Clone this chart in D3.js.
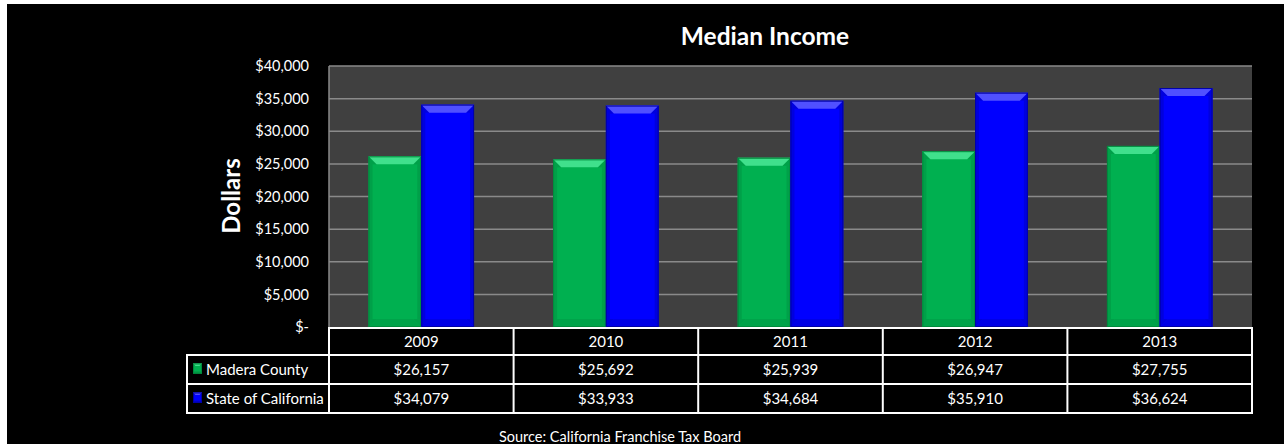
<!DOCTYPE html>
<html>
<head>
<meta charset="utf-8">
<script src="https://cdn.jsdelivr.net/npm/d3@7"></script>
<style>
  html, body { margin: 0; padding: 0; background: #ffffff; }
  svg { display: block; }
  text { font-family: Lato, "Open Sans", "Liberation Sans", sans-serif; fill: #ffffff; }
</style>
</head>
<body>
<svg id="chart" width="1284" height="444"></svg>
<script>
// Median income by year, Madera County vs. State of California
const years = ["2009", "2010", "2011", "2012", "2013"];
const seriesNames = ["Madera County", "State of California"];
const maderaCounty = [26157, 25692, 25939, 26947, 27755];
const stateOfCalifornia = [34079, 33933, 34684, 35910, 36624];
const yTicks = [0, 5000, 10000, 15000, 20000, 25000, 30000, 35000, 40000];

const seriesValues = [maderaCounty, stateOfCalifornia];

const palette = {
  "Madera County":       { base: "#00b050", top: "#40e08c", bottom: "#00a34a", edge: "#008a3d", side: "#00a049" },
  "State of California": { base: "#0000ff", top: "#5050ff", bottom: "#0000e6", edge: "#0000a8", side: "#0000de" }
};

const svg = d3.select("#chart");
const W = 1284, H = 444;

// Dark chart canvas
svg.append("rect").attr("x", 7).attr("y", 4).attr("width", W - 7).attr("height", H - 4).attr("fill", "#000000");

const plot = { left: 329, right: 1252, top: 66, bottom: 327 };

const x0 = d3.scaleBand().domain(years).range([plot.left, plot.right]).paddingInner(0).paddingOuter(0);
const x1 = d3.scaleBand().domain(seriesNames).range([0, x0.bandwidth()]).paddingInner(0).paddingOuter(0.75);
const y = d3.scaleLinear().domain([0, 40000]).range([plot.bottom, plot.top]);

// Plot area background
svg.append("rect")
  .attr("x", plot.left).attr("y", plot.top)
  .attr("width", plot.right - plot.left).attr("height", plot.bottom - plot.top)
  .attr("fill", "#404040");

// Horizontal gridlines
svg.append("g").selectAll("line").data(yTicks.filter(t => t > 0)).join("line")
  .attr("x1", plot.left).attr("x2", plot.right)
  .attr("y1", d => y(d)).attr("y2", d => y(d))
  .attr("stroke", "#8a8a8a").attr("stroke-width", 1.5);

// Left plot border
svg.append("line")
  .attr("x1", plot.left).attr("x2", plot.left)
  .attr("y1", plot.top).attr("y2", plot.bottom)
  .attr("stroke", "#8a8a8a").attr("stroke-width", 1.5);

// Y axis tick labels
const fmt = d3.format(",");
const yAxis = d3.axisLeft(y).tickValues(yTicks).tickSize(0).tickPadding(20)
  .tickFormat(d => d === 0 ? "$-" : "$" + fmt(d));
const yg = svg.append("g").attr("transform", `translate(${plot.left},0)`).call(yAxis);
yg.select(".domain").remove();
yg.selectAll("text").attr("font-size", 14.5).attr("fill", "#ffffff")
  .style("font-family", "Lato, 'Open Sans', sans-serif");

// Beveled bar shape
function bevelBar(g, x, yTop, w, h, c, b) {
  b = Math.min(b, w / 2, h / 2);
  g.append("rect").attr("x", x).attr("y", yTop).attr("width", w).attr("height", h).attr("fill", c.base);
  // left and right faces
  g.append("path").attr("d", `M${x},${yTop}L${x + b},${yTop + b}L${x + b},${yTop + h - b}L${x},${yTop + h}Z`).attr("fill", c.side);
  g.append("path").attr("d", `M${x + w},${yTop}L${x + w - b},${yTop + b}L${x + w - b},${yTop + h - b}L${x + w},${yTop + h}Z`).attr("fill", c.side);
  g.append("rect").attr("x", x + b * 0.5).attr("y", yTop + b).attr("width", w - b).attr("height", Math.max(0, h - 2 * b)).attr("fill", c.base);
  // top face
  g.append("path").attr("d", `M${x},${yTop}L${x + w},${yTop}L${x + w - b},${yTop + b}L${x + b},${yTop + b}Z`).attr("fill", c.top);
  // bottom face
  g.append("path").attr("d", `M${x},${yTop + h}L${x + w},${yTop + h}L${x + w - b},${yTop + h - b}L${x + b},${yTop + h - b}Z`).attr("fill", c.bottom);
  g.append("rect").attr("x", x + 0.5).attr("y", yTop + 0.5).attr("width", w - 1).attr("height", h - 1)
    .attr("fill", "none").attr("stroke", c.edge).attr("stroke-width", 1);
}

// Bars
const barsG = svg.append("g");
years.forEach((yr, i) => {
  seriesNames.forEach((s, j) => {
    const v = seriesValues[j][i];
    const bx = x0(yr) + x1(s);
    const by = y(v);
    bevelBar(barsG.append("g"), bx, by, x1.bandwidth(), y(0) - by, palette[s], 8);
  });
});

// Title
svg.append("text").attr("x", 765).attr("y", 45).attr("text-anchor", "middle")
  .attr("font-size", 24.5).attr("font-weight", "bold").text("Median Income");

// Y axis title
svg.append("text").attr("transform", "translate(240,196) rotate(-90)")
  .attr("text-anchor", "middle").attr("font-size", 24).attr("font-weight", "bold").text("Dollars");

// Data table
const table = { left: 187, headTop: 328, rowTop: 355, rowH: 29 };
const tg = svg.append("g");
const lineStyle = sel => sel.attr("stroke", "#ffffff").attr("stroke-width", 2).attr("fill", "none");

// header row (years)
tg.append("rect").attr("x", plot.left).attr("y", table.headTop)
  .attr("width", plot.right - plot.left).attr("height", table.rowTop - table.headTop).call(lineStyle);
tg.selectAll("text.year").data(years).join("text").attr("class", "year")
  .attr("x", d => x0(d) + x0.bandwidth() / 2).attr("y", (table.headTop + table.rowTop) / 2)
  .attr("dy", "0.35em").attr("text-anchor", "middle").attr("font-size", 15).text(d => d);

// series rows
seriesNames.forEach((s, j) => {
  const top = table.rowTop + j * table.rowH;
  tg.append("rect").attr("x", table.left).attr("y", top)
    .attr("width", plot.right - table.left).attr("height", table.rowH).call(lineStyle);
  const cy = top + table.rowH / 2;
  bevelBar(tg.append("g"), 193, cy - 6, 9, 10, palette[s], 2.5);
  tg.append("text").attr("x", 206).attr("y", cy).attr("dy", "0.35em").attr("font-size", 15).text(s);
  tg.selectAll(null).data(years).join("text")
    .attr("x", d => x0(d) + x0.bandwidth() / 2).attr("y", cy).attr("dy", "0.35em")
    .attr("text-anchor", "middle").attr("font-size", 15)
    .text((d, i) => "$" + fmt(seriesValues[j][i]));
});

// column separators
const colEdges = years.map(d => x0(d)).concat([plot.right]);
tg.selectAll("line.col").data(colEdges).join("line").attr("class", "col")
  .attr("x1", d => d).attr("x2", d => d)
  .attr("y1", table.headTop).attr("y2", table.rowTop + 2 * table.rowH)
  .attr("stroke", "#ffffff").attr("stroke-width", 2);

// Source note
svg.append("text").attr("x", 620).attr("y", 437).attr("dy", "0.35em").attr("text-anchor", "middle")
  .attr("font-size", 14.5).text("Source: California Franchise Tax Board");
</script>
</body>
</html>
